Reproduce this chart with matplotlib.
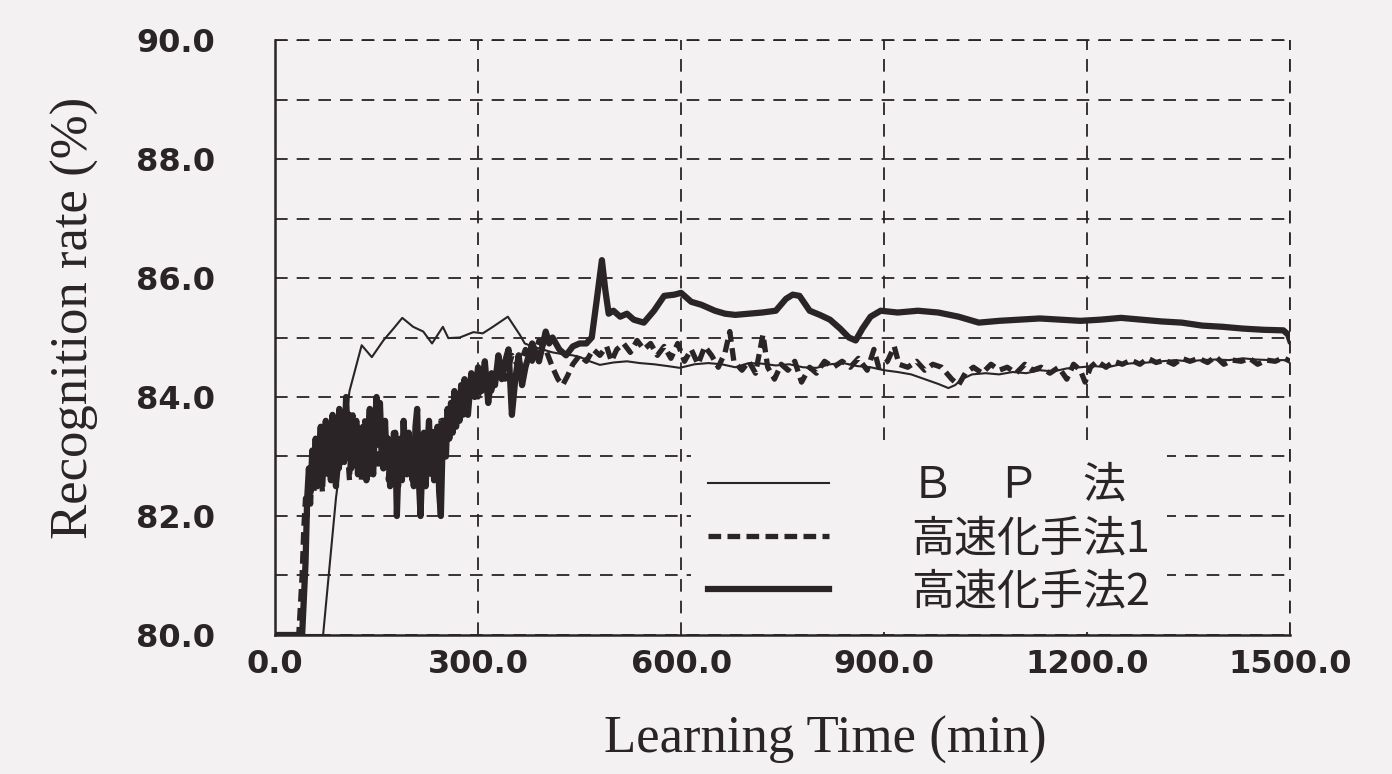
import matplotlib
matplotlib.use("Agg")
import matplotlib.pyplot as plt

# learning curves: time (min) vs recognition rate (%)
bp_time = [0, 71, 90, 110, 128, 143, 160, 175, 188, 204, 219, 232, 248, 256, 273,
           293, 307, 322, 344, 362, 369, 380, 395, 410, 425, 440, 451, 465, 480, 500,
           520, 539, 560, 580, 598, 620, 640, 660, 680, 700, 720, 740, 760, 780, 800,
           820, 840, 860, 880, 900, 920, 940, 960, 980, 995, 1005, 1015, 1030, 1050,
           1070, 1090, 1110, 1130, 1150, 1170, 1190, 1210, 1230, 1250, 1270, 1290,
           1310, 1330, 1350, 1370, 1390, 1410, 1430, 1450, 1470, 1490, 1500]
bp_rate = [80.0, 80.0, 82.3, 84.1, 84.87, 84.67, 84.95, 85.15, 85.33, 85.18, 85.1,
           84.9, 85.18, 84.99, 85.0, 85.09, 85.07, 85.18, 85.35, 85.04, 84.9, 84.85,
           84.8, 84.75, 84.72, 84.7, 84.67, 84.6, 84.54, 84.58, 84.6, 84.57, 84.55,
           84.52, 84.49, 84.55, 84.57, 84.55, 84.5, 84.57, 84.56, 84.53, 84.55, 84.5,
           84.49, 84.55, 84.57, 84.52, 84.5, 84.45, 84.42, 84.38, 84.3, 84.22, 84.15,
           84.2, 84.3, 84.38, 84.4, 84.38, 84.42, 84.4, 84.45, 84.43, 84.48, 84.5,
           84.52, 84.5, 84.55, 84.57, 84.58, 84.6, 84.62, 84.6, 84.62, 84.63, 84.62,
           84.65, 84.63, 84.62, 84.62, 84.62]

# method 1: sampled every 2.5 min from 40 to 270, then sparser
m1_step = 2.5
m1_start = 40
m1_early_rate = [81.0, 81.8, 82.3, 82.0, 82.7, 82.2, 82.9, 82.4, 83.1, 82.6, 83.3,
                 82.8, 82.4, 83.0, 83.5, 82.7, 83.2, 82.9, 83.6, 83.0, 82.7, 83.4,
                 82.8, 83.3, 83.7, 82.9, 83.4, 83.0, 82.6, 83.3, 83.7, 83.1, 82.8,
                 83.5, 83.0, 82.6, 83.2, 83.6, 82.9, 83.3, 82.7, 83.4, 83.0, 83.7,
                 83.1, 82.8, 83.5, 83.0, 83.6, 82.9, 83.3, 82.6, 83.2, 82.8, 83.4,
                 82.7, 83.1, 82.5, 83.3, 82.9, 83.5, 83.0, 82.7, 83.4, 83.0, 82.6,
                 83.3, 82.9, 83.5, 83.0, 82.6, 83.2, 82.8, 83.4, 82.9, 83.3, 82.7,
                 83.5, 83.1, 82.8, 83.4, 83.0, 83.6, 83.2, 83.7, 83.3, 83.8, 83.4,
                 83.9, 83.5, 84.0, 83.6, 84.0]
m1_late_time = [280, 290, 300, 310, 320, 330, 340, 350, 360, 370, 380, 390, 400, 410,
                418, 425, 432, 440, 450, 460, 470, 480, 490, 497, 505, 515, 525, 535,
                545, 555, 565, 575, 585, 595, 605, 615, 625, 635, 645, 655, 665, 672,
                678, 690, 700, 710, 721, 728, 738, 748, 758, 768, 778, 790, 800, 812,
                825, 838, 850, 862, 875, 885, 892, 905, 915, 922, 935, 948, 960, 972,
                985, 1000, 1010, 1020, 1032, 1045, 1058, 1070, 1082, 1095, 1108, 1120,
                1132, 1145, 1158, 1170, 1180, 1190, 1197, 1205, 1215, 1228, 1240, 1252,
                1265, 1278, 1290, 1302, 1315, 1328, 1340, 1352, 1365, 1378, 1390, 1402,
                1415, 1428, 1440, 1452, 1465, 1478, 1490, 1500]
m1_late_rate = [83.9, 84.2, 84.0, 84.4, 84.1, 84.5, 84.3, 84.7, 84.5, 84.8, 84.6,
                84.95, 84.8, 84.5, 84.3, 84.2, 84.35, 84.55, 84.7, 84.6, 84.8, 84.7,
                84.85, 84.6, 84.8, 84.9, 84.75, 84.95, 84.8, 84.9, 84.7, 84.85, 84.65,
                84.9, 84.6, 84.8, 84.55, 84.85, 84.7, 84.5, 84.75, 85.1, 84.6, 84.45,
                84.6, 84.4, 85.05, 84.5, 84.3, 84.55, 84.45, 84.6, 84.25, 84.5, 84.4,
                84.6, 84.5, 84.6, 84.5, 84.65, 84.45, 84.8, 84.5, 84.6, 84.85, 84.55,
                84.5, 84.6, 84.45, 84.55, 84.5, 84.3, 84.2, 84.4, 84.5, 84.4, 84.55,
                84.45, 84.5, 84.4, 84.55, 84.45, 84.5, 84.4, 84.5, 84.3, 84.55, 84.45,
                84.25, 84.5, 84.6, 84.5, 84.6, 84.55, 84.62, 84.55, 84.65, 84.58, 84.62,
                84.55, 84.65, 84.6, 84.65, 84.58, 84.68, 84.55, 84.62, 84.6, 84.65,
                84.55, 84.62, 84.6, 84.66, 84.6]

# method 2: sampled every 2.5 min from 45 to 280, then sparser
m2_step = 2.5
m2_start = 45
m2_early_rate = [81.2, 82.3, 82.8, 82.4, 83.1, 82.6, 83.3, 82.5, 83.0, 83.5, 82.7,
                 83.2, 83.6, 82.8, 83.4, 82.6, 83.7, 83.0, 82.5, 83.3, 83.8, 82.9,
                 83.5, 83.1, 84.0, 83.2, 83.7, 82.8, 83.4, 83.0, 83.6, 82.7, 83.3,
                 82.9, 83.5, 83.1, 82.6, 83.4, 83.8, 83.0, 82.7, 83.5, 84.0, 83.2,
                 83.9, 83.1, 82.8, 83.6, 82.9, 83.3, 82.5, 83.2, 82.8, 83.4, 82.0,
                 82.9, 83.3, 82.6, 83.6, 83.0, 82.7, 83.4, 82.9, 83.2, 82.5, 83.5,
                 83.8, 82.6, 82.0, 82.9, 83.4, 82.5, 83.1, 83.6, 82.8, 83.3, 82.6,
                 83.0, 83.5, 82.4, 82.0, 83.2, 83.6, 83.0, 83.8, 83.3, 83.9, 83.4,
                 84.1, 83.5, 83.9, 83.6, 84.2, 83.7, 84.3]
m2_late_time = [285, 290, 295, 300, 305, 310, 315, 320, 325, 330, 335, 340, 345, 350,
                355, 360, 365, 370, 380, 390, 400, 405, 410, 420, 430, 440, 450, 460,
                468, 475, 483, 488, 493, 500, 510, 520, 530, 545, 560, 575, 590, 600,
                615, 630, 650, 665, 680, 700, 720, 740, 755, 765, 775, 790, 805, 820,
                835, 848, 858, 868, 880, 895, 920, 950, 980, 1010, 1040, 1070, 1100,
                1130, 1160, 1190, 1220, 1250, 1280, 1310, 1340, 1370, 1400, 1430, 1460,
                1490, 1497, 1500]
m2_late_rate = [83.7, 84.4, 84.0, 84.5, 84.1, 84.6, 83.9, 84.4, 84.2, 84.7, 84.3,
                84.6, 84.8, 83.7, 84.3, 84.7, 84.2, 84.5, 84.9, 84.6, 85.1, 84.9, 85.0,
                84.8, 84.7, 84.85, 84.9, 84.9, 85.0, 85.6, 86.3, 85.8, 85.4, 85.45,
                85.35, 85.4, 85.3, 85.25, 85.45, 85.7, 85.72, 85.75, 85.6, 85.55, 85.45,
                85.4, 85.38, 85.4, 85.42, 85.45, 85.65, 85.72, 85.7, 85.45, 85.38, 85.3,
                85.15, 85.0, 84.95, 85.15, 85.35, 85.45, 85.42, 85.45, 85.42, 85.35,
                85.25, 85.28, 85.3, 85.32, 85.3, 85.28, 85.3, 85.33, 85.3, 85.27, 85.25,
                85.2, 85.18, 85.15, 85.13, 85.12, 85.05, 84.95]

m1_time = ([0, 35] + [m1_start + m1_step * i for i in range(len(m1_early_rate))]
           + m1_late_time)
m1_rate = [80.0, 80.0] + m1_early_rate + m1_late_rate
m2_time = ([0, 40] + [m2_start + m2_step * i for i in range(len(m2_early_rate))]
           + m2_late_time)
m2_rate = [80.0, 80.0] + m2_early_rate + m2_late_rate

labels = ["Ｂ　Ｐ　法", "高速化手法1", "高速化手法2"]
x_ticks = [0, 300, 600, 900, 1200, 1500]
y_ticks = [80, 82, 84, 86, 88, 90]

bg = "#f3f1f2"
ink = "#2a2427"

fig = plt.figure(figsize=(13.92, 7.74), dpi=100, facecolor=bg)
ax = fig.add_axes([0.1976, 0.1796, 0.7292, 0.7687], facecolor=bg)

ax.plot(bp_time, bp_rate, color=ink, lw=1.5, label=labels[0], zorder=3)
ax.plot(m1_time, m1_rate, color=ink, lw=3.8, ls=(0, (2.4, 1.2)), label=labels[1], zorder=4)
ax.plot(m2_time, m2_rate, color=ink, lw=4.5, label=labels[2], zorder=5)

ax.set_xlim(0, 1500)
ax.set_ylim(80, 90)
ax.set_xticks(x_ticks)
ax.set_xticklabels(["%.1f" % v for v in x_ticks])
ax.set_yticks(y_ticks)
ax.set_yticklabels(["%.1f" % v for v in y_ticks])
ax.set_yticks(range(81, 90, 2), minor=True)

# dashed grid, also standing in for the top and right frame
ax.grid(True, which="both", color=ink, lw=1.3, ls=(0, (7, 5)))
ax.spines["top"].set_visible(False)
ax.spines["right"].set_visible(False)
ax.plot([0, 1500], [90, 90], color=ink, lw=1.3, ls=(0, (7, 5)), clip_on=False)
ax.plot([1500, 1500], [80, 90], color=ink, lw=1.3, ls=(0, (7, 5)), clip_on=False)
for s in ["left", "bottom"]:
    ax.spines[s].set_color(ink)
    ax.spines[s].set_linewidth(1.8)

ax.tick_params(which="both", length=0)
ax.tick_params(axis="y", pad=43)
ax.tick_params(axis="x", pad=10)
for t in ax.get_xticklabels() + ax.get_yticklabels():
    t.set_fontfamily("DejaVu Sans")
    t.set_fontweight("bold")
    t.set_fontsize(23)
    t.set_color(ink)

ax.set_xlabel("Learning Time (min)", family="Liberation Serif",
              fontsize=38, color=ink, va="center")
ax.xaxis.set_label_coords(0.542, -0.176)
ax.set_ylabel("Recognition rate (%)", family="Liberation Serif",
              fontsize=38, color=ink, va="center")
ax.yaxis.set_label_coords(-0.197, 0.533)

leg = ax.legend(loc="upper left", bbox_to_anchor=(0.41, 0.317), borderaxespad=0,
                frameon=True, facecolor=bg, edgecolor="none", framealpha=1,
                fancybox=False, borderpad=0.4, handlelength=2.8, handletextpad=1.9,
                labelspacing=0.22, prop={"family": ["Noto Sans CJK JP"], "size": 31})
leg.set_zorder(6)
for t in leg.get_texts():
    t.set_color(ink)

fig.savefig("out.png", dpi=100, facecolor=bg)
